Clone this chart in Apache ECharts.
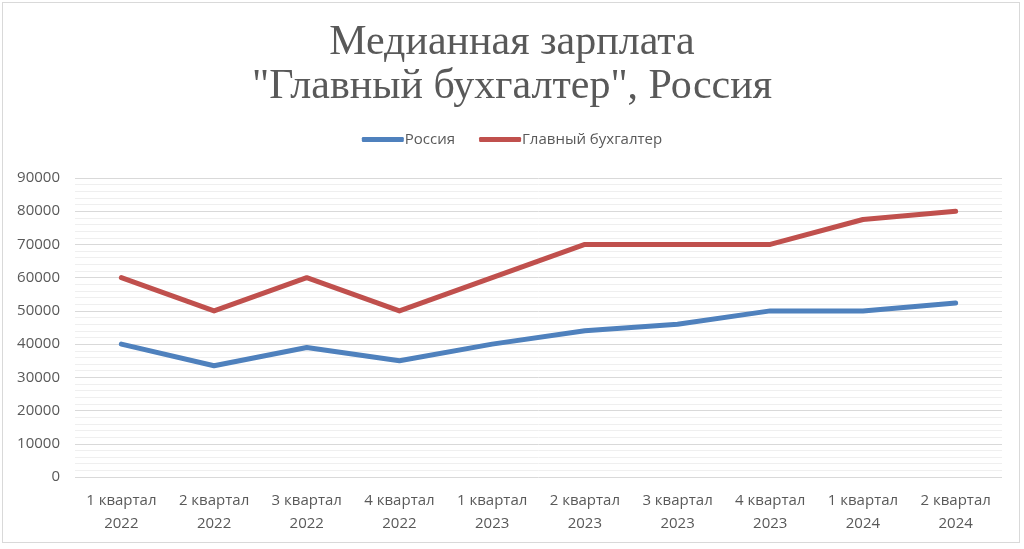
<!DOCTYPE html>
<html><head><meta charset="utf-8">
<script src="https://cdn.jsdelivr.net/npm/echarts@6/dist/echarts.min.js"></script>
<style>
html,body{margin:0;padding:0;background:#fff;}
#frame{position:absolute;left:2px;top:2px;width:1018px;height:541px;border:1px solid #d9d9d9;box-sizing:border-box;}
#c{position:absolute;left:0;top:0;width:1024px;height:549px;}
</style></head>
<body><div id="frame"></div><div id="c"></div>
<script>
const titleText = 'Медианная зарплата\n"Главный бухгалтер", Россия';
const categories = ['1 квартал\n2022','2 квартал\n2022','3 квартал\n2022','4 квартал\n2022','1 квартал\n2023','2 квартал\n2023','3 квартал\n2023','4 квартал\n2023','1 квартал\n2024','2 квартал\n2024'];
const seriesNames = ['Россия','Главный бухгалтер'];
const russia = [40000,33500,39000,35000,40000,44000,46000,50000,50000,52400];
const accountant = [60000,50000,60000,50000,60000,70000,70000,70000,77500,80000];
const yMin = 0, yMax = 90000, yInterval = 10000;

const chart = echarts.init(document.getElementById('c'));
const txt = '#595959';
const sans = '"Open Sans", Lato, sans-serif';
chart.setOption({
  backgroundColor: 'transparent',
  animation: false,
  title: {
    text: titleText, left: 'center', top: 16,
    textStyle: {fontFamily: '"Liberation Serif", "DejaVu Serif", serif', fontSize: 42, fontWeight: 'normal', color: txt, lineHeight: 44}
  },
  legend: {
    top: 127, left: 'center', itemGap: 24, itemWidth: 42, itemHeight: 5, icon: 'roundRect',
    textStyle: {fontFamily: sans, fontSize: 15, color: txt, padding: [0,0,0,-4]},
    data: seriesNames
  },
  grid: {left: 75, right: 22, top: 178, bottom: 72, containLabel: false},
  xAxis: {
    type: 'category', data: categories, boundaryGap: true,
    axisLine: {show: false}, axisTick: {show: false},
    axisLabel: {fontFamily: sans, fontSize: 15, color: txt, margin: 12, lineHeight: 23, interval: 0}
  },
  yAxis: {
    type: 'value', min: yMin, max: yMax, interval: yInterval,
    axisLine: {show: false}, axisTick: {show: false},
    axisLabel: {fontFamily: sans, fontSize: 15, color: txt, margin: 15, formatter: v => String(v)},
    splitLine: {lineStyle: {color: '#d9d9d9', width: 1}},
    minorTick: {show: false, splitNumber: 5},
    minorSplitLine: {show: true, lineStyle: {color: '#efefef', width: 1}}
  },
  series: [
    {name: seriesNames[0], type: 'line', data: russia, symbol: 'none', color: '#4F81BD',
     lineStyle: {width: 5, cap: 'round', join: 'round'}},
    {name: seriesNames[1], type: 'line', data: accountant, symbol: 'none', color: '#C0504D',
     lineStyle: {width: 5, cap: 'round', join: 'round'}}
  ]
});
</script></body></html>
